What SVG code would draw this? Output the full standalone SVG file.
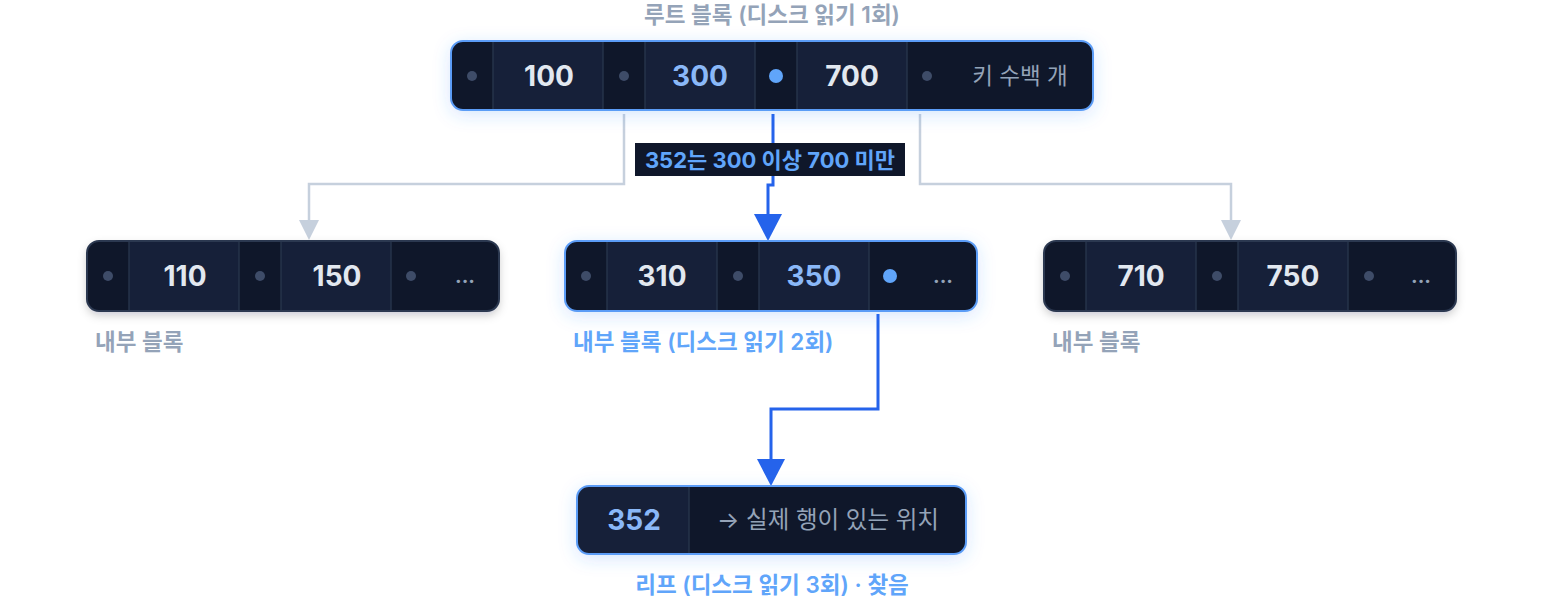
<svg xmlns="http://www.w3.org/2000/svg" width="1544" height="612" viewBox="0 0 1544 612">
<defs>
<style>
.t{font-family:Inter,"Noto Sans CJK KR",sans-serif}
.lbl{font-size:22.5px;font-weight:600;fill:#94a3b8}
.lblb{font-size:22.5px;font-weight:600;fill:#60a5fa}
.key{font-size:28px;font-weight:700;fill:#e2e8f0;text-anchor:middle}
.keyh{font-size:28px;font-weight:700;fill:#8ab8f8;text-anchor:middle}
.muted{fill:#94a3b8;text-anchor:middle}
.dots{font-size:20px;font-weight:700;fill:#94a3b8;text-anchor:middle}
.pc{fill:#0f172a}
.kc{fill:#162039}
.div{stroke:#26334a;stroke-width:1.5}
.dot{fill:#3e4c68}
.doth{fill:#60a5fa}
.gray{fill:none;stroke:#c6d0dd;stroke-width:2.5}
.blue{fill:none;stroke:#2563eb;stroke-width:3}
</style>
<filter id="glow" x="-20%" y="-60%" width="140%" height="220%">
<feDropShadow dx="0" dy="4" stdDeviation="9" flood-color="#3b82f6" flood-opacity="0.22"/>
</filter>
<filter id="shadow" x="-20%" y="-60%" width="140%" height="220%">
<feDropShadow dx="0" dy="4" stdDeviation="5" flood-color="#0f172a" flood-opacity="0.22"/>
</filter>
<clipPath id="cRoot"><rect x="451" y="41" width="642" height="69" rx="12"/></clipPath>
<clipPath id="cL"><rect x="87" y="241" width="412" height="70" rx="12"/></clipPath>
<clipPath id="cM"><rect x="565" y="241" width="412" height="70" rx="12"/></clipPath>
<clipPath id="cR"><rect x="1044" y="241" width="412" height="70" rx="12"/></clipPath>
<clipPath id="cLeaf"><rect x="577" y="486" width="389" height="68" rx="12"/></clipPath>
</defs>
<rect width="1544" height="612" fill="#ffffff"/>

<g id="connectors">
<path class="gray" d="M624 114 V184 H309 V222"/>
<polygon points="299,220 319,220 309,240" fill="#c6d0dd"/>
<path class="gray" d="M920 114 V184 H1231 V222"/>
<polygon points="1221,220 1241,220 1231,240" fill="#c6d0dd"/>
<path class="blue" d="M773 114 V185 H768 V218"/>
<polygon points="754,214 782,214 768,241" fill="#2563eb"/>
<rect x="635" y="143" width="270" height="33" fill="#0f172a"/>
<text class="t" x="770" y="168" text-anchor="middle" font-size="22" font-weight="700" fill="#60a5fa">352는 300 이상 700 미만</text>
<path class="blue" d="M878 314 V409 H771 V462"/>
<polygon points="757,459 785,459 771,486" fill="#2563eb"/>
</g>

<g id="root">
<text class="t lbl" x="772" y="23" text-anchor="middle">루트 블록 (디스크 읽기 1회)</text>
<rect x="451" y="41" width="642" height="69" rx="12" fill="#0f172a" filter="url(#glow)"/>
<g clip-path="url(#cRoot)">
<rect class="pc" x="451" y="41" width="642" height="69"/>
<rect class="kc" x="493" y="41" width="110" height="69"/>
<rect class="kc" x="645" y="41" width="110" height="69"/>
<rect class="kc" x="797" y="41" width="110" height="69"/>
<line class="div" x1="493" y1="41" x2="493" y2="110"/>
<line class="div" x1="603" y1="41" x2="603" y2="110"/>
<line class="div" x1="645" y1="41" x2="645" y2="110"/>
<line class="div" x1="755" y1="41" x2="755" y2="110"/>
<line class="div" x1="797" y1="41" x2="797" y2="110"/>
<line class="div" x1="907" y1="41" x2="907" y2="110"/>
</g>
<rect x="451" y="41" width="642" height="69" rx="12" fill="none" stroke="#5b9cf6" stroke-width="2"/>
<circle class="dot" cx="472" cy="76" r="5"/>
<circle class="dot" cx="624" cy="76" r="5"/>
<circle class="doth" cx="776" cy="76" r="7"/>
<circle class="dot" cx="927" cy="76" r="5"/>
<text class="t key" x="549" y="86">100</text>
<text class="t keyh" x="700" y="86">300</text>
<text class="t key" x="852" y="86">700</text>
<text class="t muted" x="1020" y="84" font-size="22.5">키 수백 개</text>
</g>

<g id="internal-left">
<rect x="87" y="241" width="412" height="70" rx="12" fill="#0f172a" filter="url(#shadow)"/>
<g clip-path="url(#cL)">
<rect class="pc" x="87" y="241" width="412" height="70"/>
<rect class="kc" x="129" y="241" width="110" height="70"/>
<rect class="kc" x="281" y="241" width="110" height="70"/>
<line class="div" x1="129" y1="241" x2="129" y2="311"/>
<line class="div" x1="239" y1="241" x2="239" y2="311"/>
<line class="div" x1="281" y1="241" x2="281" y2="311"/>
<line class="div" x1="391" y1="241" x2="391" y2="311"/>
</g>
<rect x="87" y="241" width="412" height="70" rx="12" fill="none" stroke="#2b3850" stroke-width="2"/>
<circle class="dot" cx="108" cy="276" r="5"/>
<circle class="dot" cx="260" cy="276" r="5"/>
<circle class="dot" cx="411" cy="276" r="5"/>
<text class="t key" x="185" y="286">110</text>
<text class="t key" x="337" y="286">150</text>
<text class="t dots" x="465" y="283">...</text>
<text class="t lbl" x="95" y="350">내부 블록</text>
</g>

<g id="internal-mid">
<rect x="565" y="241" width="412" height="70" rx="12" fill="#0f172a" filter="url(#glow)"/>
<g clip-path="url(#cM)">
<rect class="pc" x="565" y="241" width="412" height="70"/>
<rect class="kc" x="607" y="241" width="110" height="70"/>
<rect class="kc" x="759" y="241" width="110" height="70"/>
<line class="div" x1="607" y1="241" x2="607" y2="311"/>
<line class="div" x1="717" y1="241" x2="717" y2="311"/>
<line class="div" x1="759" y1="241" x2="759" y2="311"/>
<line class="div" x1="869" y1="241" x2="869" y2="311"/>
</g>
<rect x="565" y="241" width="412" height="70" rx="12" fill="none" stroke="#5b9cf6" stroke-width="2"/>
<circle class="dot" cx="586" cy="276" r="5"/>
<circle class="dot" cx="738" cy="276" r="5"/>
<circle class="doth" cx="890" cy="276" r="7"/>
<text class="t key" x="662" y="286">310</text>
<text class="t keyh" x="814" y="286">350</text>
<text class="t dots" x="943" y="283">...</text>
<text class="t lblb" x="573" y="350">내부 블록 (디스크 읽기 2회)</text>
</g>

<g id="internal-right">
<rect x="1044" y="241" width="412" height="70" rx="12" fill="#0f172a" filter="url(#shadow)"/>
<g clip-path="url(#cR)">
<rect class="pc" x="1044" y="241" width="412" height="70"/>
<rect class="kc" x="1086" y="241" width="110" height="70"/>
<rect class="kc" x="1238" y="241" width="110" height="70"/>
<line class="div" x1="1086" y1="241" x2="1086" y2="311"/>
<line class="div" x1="1196" y1="241" x2="1196" y2="311"/>
<line class="div" x1="1238" y1="241" x2="1238" y2="311"/>
<line class="div" x1="1348" y1="241" x2="1348" y2="311"/>
</g>
<rect x="1044" y="241" width="412" height="70" rx="12" fill="none" stroke="#2b3850" stroke-width="2"/>
<circle class="dot" cx="1065" cy="276" r="5"/>
<circle class="dot" cx="1217" cy="276" r="5"/>
<circle class="dot" cx="1369" cy="276" r="5"/>
<text class="t key" x="1141" y="286">710</text>
<text class="t key" x="1293" y="286">750</text>
<text class="t dots" x="1421" y="283">...</text>
<text class="t lbl" x="1052" y="350">내부 블록</text>
</g>

<g id="leaf">
<rect x="577" y="486" width="389" height="68" rx="12" fill="#0f172a" filter="url(#glow)"/>
<g clip-path="url(#cLeaf)">
<rect class="pc" x="577" y="486" width="389" height="68"/>
<rect class="kc" x="577" y="486" width="112" height="68"/>
<line class="div" x1="689" y1="486" x2="689" y2="554"/>
</g>
<rect x="577" y="486" width="389" height="68" rx="12" fill="none" stroke="#5b9cf6" stroke-width="2"/>
<text class="t keyh" x="634" y="530">352</text>
<text class="t muted" x="828" y="528" font-size="23.5">→ 실제 행이 있는 위치</text>
<text class="t lblb" x="772" y="593" text-anchor="middle">리프 (디스크 읽기 3회) · 찾음</text>
</g>
</svg>
